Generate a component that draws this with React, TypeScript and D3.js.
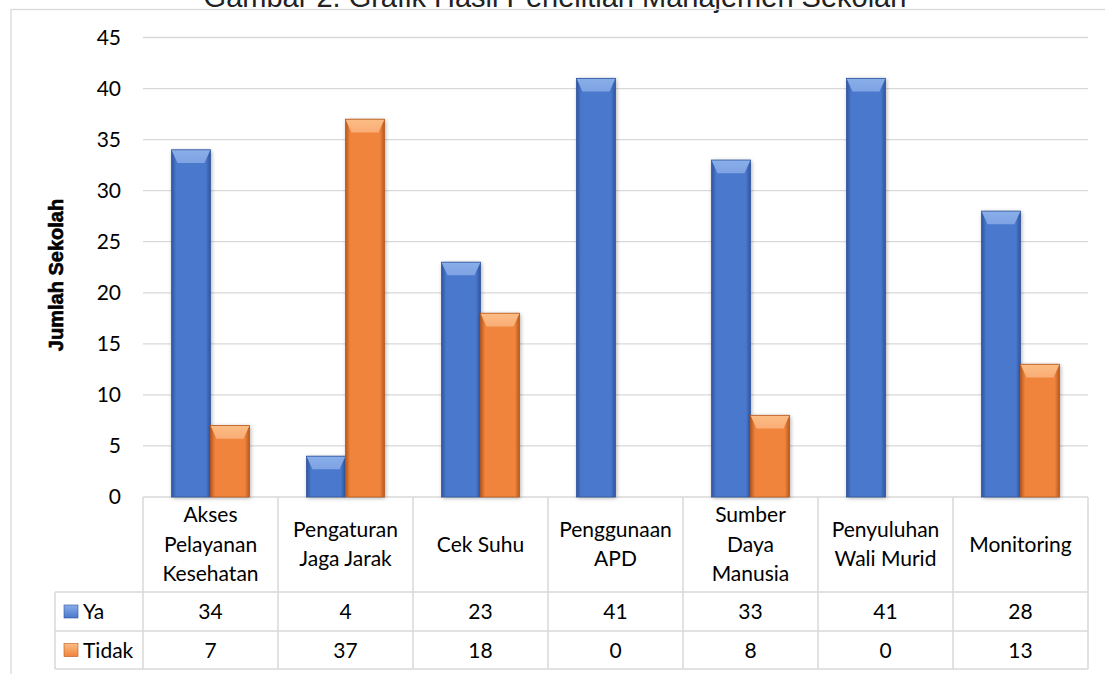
import React from "react";
import * as d3 from "d3";

const categories: string[][] = [
  ["Akses", "Pelayanan", "Kesehatan"],
  ["Pengaturan", "Jaga Jarak"],
  ["Cek Suhu"],
  ["Penggunaan", "APD"],
  ["Sumber", "Daya", "Manusia"],
  ["Penyuluhan", "Wali Murid"],
  ["Monitoring"],
];
const seriesNames = ["Ya", "Tidak"];
const yaValues = [34, 4, 23, 41, 33, 41, 28];
const tidakValues = [7, 37, 18, 0, 8, 0, 13];
const yTicks = [0, 5, 10, 15, 20, 25, 30, 35, 40, 45];
const title = "Gambar 2. Grafik Hasil Penelitian Manajemen Sekolah";
const yTitle = "Jumlah Sekolah";

const W = 1105;
const H = 674;
const plotLeft = 143;
const plotRight = 1088;
const plotTop = 37.5;
const plotBottom = 497;
const tableLeft = 55;
const headerBottom = 592;
const row1Bottom = 631;
const row2Bottom = 669;
const FONT = "Lato, 'Open Sans', sans-serif";
const FS = 21;

const colors = {
  Ya: { base: "#4a78cc", light: "#7fa3e3", dark: "#2f559f", top: "#8aaee8" },
  Tidak: { base: "#f0843c", light: "#f9ad75", dark: "#b8581c", top: "#fbbd85" },
};

export default function App() {
  const keys = categories.map((c) => c.join(" "));
  const x = d3.scaleBand<string>().domain(keys).range([plotLeft, plotRight]).padding(0);
  const xs = d3
    .scaleBand<string>()
    .domain(seriesNames)
    .range([0, x.bandwidth()])
    .paddingInner(0)
    .paddingOuter(0.73);
  const y = d3.scaleLinear().domain([0, 45]).range([plotBottom, plotTop]);
  const values: Record<string, number[]> = { Ya: yaValues, Tidak: tidakValues };

  const bev = 6;

  const bar = (s: string, i: number) => {
    const v = values[s][i];
    if (v <= 0) return null;
    const x0 = (x(keys[i]) as number) + (xs(s) as number);
    const w = xs.bandwidth();
    const y0 = y(v);
    const h = plotBottom - y0;
    const c = (colors as any)[s];
    const b = Math.min(bev, h / 2);
    return (
      <g key={s + i}>
        <rect x={x0} y={y0} width={w} height={h} fill={`url(#grad-${s})`} filter="url(#shadow)" />
        <polygon
          points={`${x0},${y0} ${x0 + w},${y0} ${x0 + w - b},${y0 + b * 2.2} ${x0 + b},${y0 + b * 2.2}`}
          fill={`url(#top-${s})`}
        />
        <rect x={x0} y={y0} width={w} height={h} fill="none" stroke={c.dark} strokeWidth={0.8} />
      </g>
    );
  };

  const colEdges = keys.map((k) => x(k) as number).concat([plotRight]);

  return (
    <svg width={W} height={H} style={{ display: "block", position: "absolute", left: 0, top: 0 }}>
      <defs>
        {seriesNames.map((s) => {
          const c = (colors as any)[s];
          return (
            <React.Fragment key={s}>
              <linearGradient id={`grad-${s}`} x1="0" x2="1" y1="0" y2="0">
                <stop offset="0" stopColor={c.dark} />
                <stop offset="0.12" stopColor={c.base} />
                <stop offset="0.5" stopColor={c.base} />
                <stop offset="0.88" stopColor={c.base} />
                <stop offset="1" stopColor={c.dark} />
              </linearGradient>
              <linearGradient id={`top-${s}`} x1="0" x2="0" y1="0" y2="1">
                <stop offset="0" stopColor={c.top} />
                <stop offset="1" stopColor={c.light} />
              </linearGradient>
              <linearGradient id={`leg-${s}`} x1="0" x2="0" y1="0" y2="1">
                <stop offset="0" stopColor={c.top} />
                <stop offset="1" stopColor={c.base} />
              </linearGradient>
            </React.Fragment>
          );
        })}
        <filter id="shadow" x="-30%" y="-10%" width="160%" height="120%">
          <feGaussianBlur in="SourceAlpha" stdDeviation="2" />
          <feOffset dx="1" dy="1" result="b" />
          <feComponentTransfer>
            <feFuncA type="linear" slope="0.35" />
          </feComponentTransfer>
          <feMerge>
            <feMergeNode />
            <feMergeNode in="SourceGraphic" />
          </feMerge>
        </filter>
      </defs>
      <rect width={W} height={H} fill="#fff" />
      <text x={555} y={6.5} textAnchor="middle" fontFamily="Arial, 'Liberation Sans', sans-serif" fontSize={29} fill="#222">
        {title}
      </text>
      <rect x={11} y={9.5} width={W} height={H} fill="none" stroke="#d9d9d9" strokeWidth={1.3} />

      {/* gridlines */}
      {yTicks.map((t) => (
        <line key={t} x1={plotLeft} x2={plotRight} y1={y(t)} y2={y(t)} stroke="#d9d9d9" strokeWidth={1.3} />
      ))}
      {yTicks.map((t) => (
        <text key={"l" + t} x={121} y={y(t) + 7} textAnchor="end" fontFamily={FONT} fontSize={FS} fill="#000">
          {t}
        </text>
      ))}
      <text
        transform={`translate(63,${275}) rotate(-90)`}
        textAnchor="middle"
        fontFamily="'Liberation Sans Narrow', 'Arial Narrow', Arial, sans-serif"
        fontWeight="bold"
        fontSize={20}
        fill="#000"
        stroke="#000"
        strokeWidth={0.6}
      >
        {yTitle}
      </text>

      {/* bars */}
      {keys.map((_, i) => seriesNames.map((s) => bar(s, i)))}

      {/* table */}
      <g stroke="#d9d9d9" strokeWidth={1.5} fill="none">
        {colEdges.map((cx, i) => (
          <line key={"v" + i} x1={cx} x2={cx} y1={plotBottom} y2={row2Bottom} />
        ))}
        <line x1={tableLeft} x2={tableLeft} y1={headerBottom} y2={row2Bottom} />
        <line x1={tableLeft} x2={plotRight} y1={headerBottom} y2={headerBottom} />
        <line x1={tableLeft} x2={plotRight} y1={row1Bottom} y2={row1Bottom} />
        <line x1={tableLeft} x2={plotRight} y1={row2Bottom} y2={row2Bottom} />
      </g>
      {categories.map((lines, i) => {
        const cx = (x(keys[i]) as number) + x.bandwidth() / 2;
        const lh = 29.5;
        const mid = (plotBottom + headerBottom) / 2;
        const start = mid - ((lines.length - 1) * lh) / 2;
        return (
          <text key={"c" + i} textAnchor="middle" fontFamily={FONT} fontSize={FS} fill="#000">
            {lines.map((ln, j) => (
              <tspan key={j} x={cx} y={start + j * lh + 7}>
                {ln}
              </tspan>
            ))}
          </text>
        );
      })}
      {seriesNames.map((s, r) => {
        const rowTop = r === 0 ? headerBottom : row1Bottom;
        const rowBottom = r === 0 ? row1Bottom : row2Bottom;
        const cy = (rowTop + rowBottom) / 2;
        return (
          <g key={"row" + s}>
            <rect x={64} y={cy - 6.5} width={14} height={13} fill={`url(#leg-${s})`} stroke={(colors as any)[s].dark} strokeWidth={0.6} />
            <text x={83} y={cy + 7.5} fontFamily={FONT} fontSize={FS} fill="#000">
              {s}
            </text>
            {values[s].map((v, i) => (
              <text
                key={i}
                x={(x(keys[i]) as number) + x.bandwidth() / 2}
                y={cy + 7.5}
                textAnchor="middle"
                fontFamily={FONT}
                fontSize={FS}
                fill="#000"
              >
                {v}
              </text>
            ))}
          </g>
        );
      })}
    </svg>
  );
}
